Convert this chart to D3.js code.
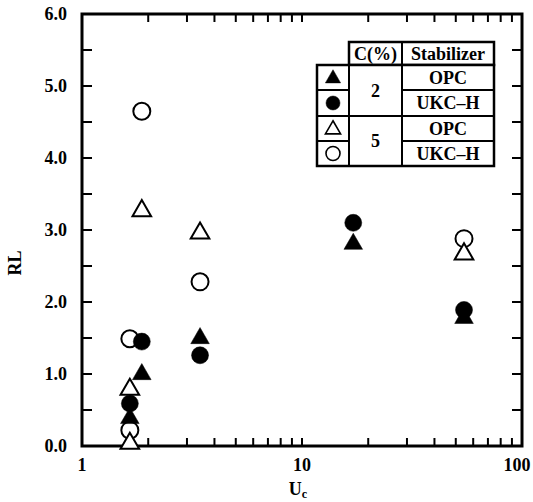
<!DOCTYPE html>
<html>
<head>
<meta charset="utf-8">
<script src="https://cdn.jsdelivr.net/npm/d3@7"></script>
<style>
  body { margin: 0; background: #fff; }
  text { font-family: "Liberation Serif", "DejaVu Serif", serif; font-weight: bold; fill: #000; }
</style>
</head>
<body>
<div id="chart"></div>
<script>
// data
const uOpcC2 = [1.65, 1.87, 3.44, 17.1, 54.5];
const rlOpcC2 = [0.40, 1.01, 1.51, 2.82, 1.79];
const uUkcC2 = [1.65, 1.87, 3.44, 17.1, 54.5];
const rlUkcC2 = [0.59, 1.45, 1.26, 3.10, 1.89];
const uOpcC5 = [1.65, 1.65, 1.87, 3.44, 54.5];
const rlOpcC5 = [0.05, 0.80, 3.28, 2.97, 2.68];
const uUkcC5 = [1.65, 1.65, 1.87, 3.44, 54.5];
const rlUkcC5 = [0.22, 1.49, 4.65, 2.28, 2.88];

const xTickLabels = [1, 10, 100];
const yTickLabels = [0, 1, 2, 3, 4, 5, 6];

let margin = { top: 14, right: 11, bottom: 56, left: 82 },
    width = 533 - margin.left - margin.right,
    height = 502 - margin.top - margin.bottom;

const svg = d3.select("#chart")
    .append("svg")
    .attr("width", 533)
    .attr("height", 502);

const g = svg.append("g")
    .attr("transform", `translate(${margin.left},${margin.top})`);

const x = d3.scaleLog().domain([1, 100]).range([0, width]);
const y = d3.scaleLinear().domain([0, 6]).range([height, 0]);

// minor + major ticks on log axis
const xTicks = [];
for (let d = 1; d < 100; d *= 10) {
    for (let k = 1; k < 10; k++) xTicks.push(d * k);
}
xTicks.push(100);
const yTicks = d3.range(0, 6.01, 0.5);

const tickLen = 8;

// bottom and top ticks (inward)
g.append("g")
    .selectAll("line")
    .data(xTicks.filter(d => d > 1 && d < 100))
    .join("line")
    .attr("x1", d => x(d)).attr("x2", d => x(d))
    .attr("y1", height).attr("y2", height - tickLen)
    .attr("stroke", "#000").attr("stroke-width", 2);

g.append("g")
    .selectAll("line")
    .data(xTicks.filter(d => d > 1 && d < 100))
    .join("line")
    .attr("x1", d => x(d)).attr("x2", d => x(d))
    .attr("y1", 0).attr("y2", tickLen)
    .attr("stroke", "#000").attr("stroke-width", 2);

// left and right ticks
g.append("g")
    .selectAll("line")
    .data(yTicks.filter(d => d > 0 && d < 6))
    .join("line")
    .attr("x1", 0).attr("x2", 10)
    .attr("y1", d => y(d)).attr("y2", d => y(d))
    .attr("stroke", "#000").attr("stroke-width", 2);

g.append("g")
    .selectAll("line")
    .data(yTicks.filter(d => d > 0 && d < 6))
    .join("line")
    .attr("x1", width).attr("x2", width - 10)
    .attr("y1", d => y(d)).attr("y2", d => y(d))
    .attr("stroke", "#000").attr("stroke-width", 2);

// frame
g.append("rect")
    .attr("width", width).attr("height", height)
    .attr("fill", "none").attr("stroke", "#000").attr("stroke-width", 3);

// tick labels
g.append("g")
    .selectAll("text")
    .data(xTickLabels)
    .join("text")
    .attr("x", d => x(d) + (d === 100 ? -5 : 0))
    .attr("y", height + 25)
    .attr("text-anchor", "middle")
    .attr("font-size", 18)
    .text(d => d);

g.append("g")
    .selectAll("text")
    .data(yTickLabels)
    .join("text")
    .attr("x", -15)
    .attr("y", d => y(d))
    .attr("dy", "0.35em")
    .attr("text-anchor", "end")
    .attr("font-size", 18)
    .text(d => d3.format(".1f")(d));

// axis titles
const xt = svg.append("text")
    .attr("x", 298)
    .attr("y", 495)
    .attr("font-size", 18)
    .attr("text-anchor", "middle");
xt.append("tspan").text("U");
xt.append("tspan").attr("font-size", 12).attr("dy", 3).text("c");

svg.append("text")
    .attr("transform", "translate(21,263) rotate(-90)")
    .attr("text-anchor", "middle")
    .attr("font-size", 18)
    .text("RL");

// markers
const tri = d3.symbol().type(d3.symbolTriangle).size(150);
const circR = 8.5;

function drawTriangles(us, rls, filled) {
    g.append("g")
        .selectAll("path")
        .data(d3.zip(us, rls))
        .join("path")
        .attr("d", tri)
        .attr("transform", d => `translate(${x(d[0])},${y(d[1]) + 1})`)
        .attr("fill", filled ? "#000" : "#fff")
        .attr("stroke", "#000")
        .attr("stroke-width", filled ? 0.5 : 2);
}

function drawCircles(us, rls, filled) {
    g.append("g")
        .selectAll("circle")
        .data(d3.zip(us, rls))
        .join("circle")
        .attr("cx", d => x(d[0]))
        .attr("cy", d => y(d[1]))
        .attr("r", circR)
        .attr("fill", filled ? "#000" : "#fff")
        .attr("stroke", "#000")
        .attr("stroke-width", filled ? 0.5 : 2);
}

drawCircles(uUkcC5, rlUkcC5, false);
drawTriangles(uOpcC5, rlOpcC5, false);
drawCircles(uUkcC2, rlUkcC2, true);
drawTriangles(uOpcC2, rlOpcC2, true);

// legend table (page coords)
const legend = svg.append("g");
const colX = [317, 349, 402, 494];
const rowY = [42, 65, 90, 116, 141, 166];

legend.append("rect")
    .attr("x", colX[1]).attr("y", rowY[0])
    .attr("width", colX[3] - colX[1]).attr("height", rowY[1] - rowY[0])
    .attr("fill", "#fff").attr("stroke", "#000").attr("stroke-width", 2.5);
legend.append("rect")
    .attr("x", colX[0]).attr("y", rowY[1])
    .attr("width", colX[3] - colX[0]).attr("height", rowY[5] - rowY[1])
    .attr("fill", "#fff").attr("stroke", "#000").attr("stroke-width", 2.5);

const hLines = [
    [colX[0], colX[1], rowY[2]], [colX[2], colX[3], rowY[2]],
    [colX[0], colX[3], rowY[3]],
    [colX[0], colX[1], rowY[4]], [colX[2], colX[3], rowY[4]]
];
legend.selectAll("line.h")
    .data(hLines)
    .join("line")
    .attr("x1", d => d[0]).attr("x2", d => d[1])
    .attr("y1", d => d[2]).attr("y2", d => d[2])
    .attr("stroke", "#000").attr("stroke-width", 2);

legend.selectAll("line.v")
    .data([colX[1], colX[2]])
    .join("line")
    .attr("x1", d => d).attr("x2", d => d)
    .attr("y1", rowY[0]).attr("y2", rowY[5])
    .attr("stroke", "#000").attr("stroke-width", 2);

const headers = ["C(%)", "Stabilizer"];
legend.selectAll("text.hd")
    .data(headers)
    .join("text")
    .attr("x", (d, i) => (colX[i + 1] + colX[i + 2]) / 2)
    .attr("y", (rowY[0] + rowY[1]) / 2)
    .attr("dy", "0.35em")
    .attr("text-anchor", "middle")
    .attr("font-size", 18)
    .text(d => d);

const concLabels = ["2", "5"];
legend.selectAll("text.c")
    .data(concLabels)
    .join("text")
    .attr("x", (colX[1] + colX[2]) / 2)
    .attr("y", (d, i) => (rowY[1 + 2 * i] + rowY[3 + 2 * i]) / 2)
    .attr("dy", "0.35em")
    .attr("text-anchor", "middle")
    .attr("font-size", 18)
    .text(d => d);

const stabLabels = ["OPC", "UKC\u2013H", "OPC", "UKC\u2013H"];
legend.selectAll("text.s")
    .data(stabLabels)
    .join("text")
    .attr("x", (colX[2] + colX[3]) / 2)
    .attr("y", (d, i) => (rowY[1 + i] + rowY[2 + i]) / 2)
    .attr("dy", "0.35em")
    .attr("text-anchor", "middle")
    .attr("font-size", 18)
    .text(d => d);

const legendSyms = ["tri", "circ", "tri", "circ"];
const legendFill = [true, true, false, false];
legendSyms.forEach((s, i) => {
    const cx = (colX[0] + colX[1]) / 2;
    const cy = (rowY[1 + i] + rowY[2 + i]) / 2;
    const fill = legendFill[i] ? "#000" : "#fff";
    if (s === "tri") {
        legend.append("path")
            .attr("d", d3.symbol().type(d3.symbolTriangle).size(100)())
            .attr("transform", `translate(${cx},${cy + 1})`)
            .attr("fill", fill).attr("stroke", "#000")
            .attr("stroke-width", legendFill[i] ? 0.5 : 1.6);
    } else {
        legend.append("circle")
            .attr("cx", cx).attr("cy", cy).attr("r", 7)
            .attr("fill", fill).attr("stroke", "#000")
            .attr("stroke-width", legendFill[i] ? 0.5 : 1.6);
    }
});
</script>
</body>
</html>
